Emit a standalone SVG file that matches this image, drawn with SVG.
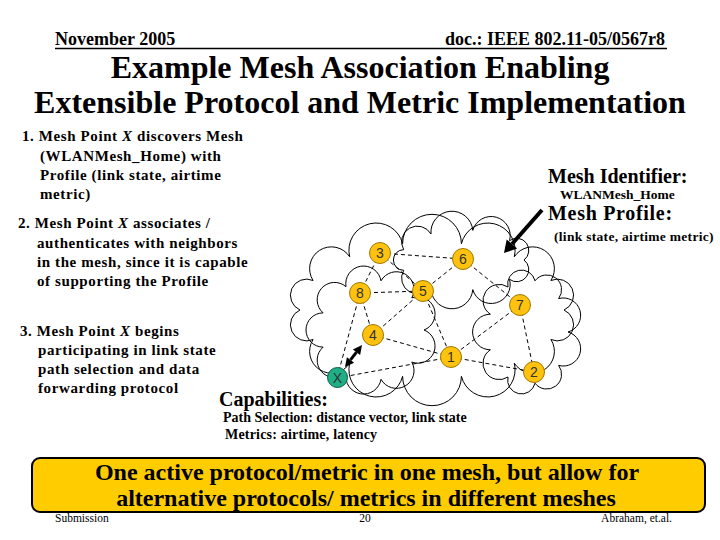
<svg xmlns="http://www.w3.org/2000/svg" width="720" height="540" viewBox="0 0 720 540">
<defs>
<style>
.t{font-family:"Liberation Serif","Times New Roman",serif;font-weight:bold;fill:#000}
.s{font-size:15px;letter-spacing:0.6px}
.cl{fill:none;stroke:#000;stroke-width:1}
.ed{stroke:#000;stroke-width:1;stroke-dasharray:4 3;fill:none}
.nd{fill:#FFC20E;stroke:#A07800;stroke-width:1}
.nx{fill:#1FAE85;stroke:#0E5E45;stroke-width:1}
.nl{font-family:"Liberation Sans",Arial,sans-serif;font-size:14px;fill:#333;text-anchor:middle}
.ft{font-family:"Liberation Serif","Times New Roman",serif;fill:#000}
</style>
</defs>
<rect width="720" height="540" fill="#fff"/>
<g id="header">
<text class="t" x="55" y="45" font-size="18">November 2005</text>
<text class="t" x="665" y="45" font-size="18" text-anchor="end">doc.: IEEE 802.11-05/0567r8</text>
<line x1="55" y1="48.5" x2="667" y2="48.5" stroke="#000" stroke-width="1.5"/>
</g>
<g id="title">
<text class="t" x="360" y="78" font-size="32" text-anchor="middle">Example Mesh Association Enabling</text>
<text class="t" x="360" y="113" font-size="32" text-anchor="middle">Extensible Protocol and Metric Implementation</text>
</g>
<g id="steps">
<text class="t s" x="22" y="141">1. Mesh Point <tspan font-style="italic">X</tspan> discovers Mesh</text>
<text class="t s" x="40" y="161">(WLANMesh_Home) with</text>
<text class="t s" x="40" y="180">Profile (link state, airtime</text>
<text class="t s" x="40" y="199">metric)</text>
<text class="t s" x="18" y="228">2. Mesh Point <tspan font-style="italic">X</tspan> associates /</text>
<text class="t s" x="37" y="248">authenticates with neighbors</text>
<text class="t s" x="37" y="267">in the mesh, since it is capable</text>
<text class="t s" x="37" y="286">of supporting the Profile</text>
<text class="t s" x="20" y="336">3. Mesh Point <tspan font-style="italic">X</tspan> begins</text>
<text class="t s" x="38" y="355">participating in link state</text>
<text class="t s" x="38" y="374">path selection and data</text>
<text class="t s" x="38" y="393">forwarding protocol</text>
</g>
<g id="cloud">
<path class="cl" d="M564,310 A1,1 0 0 1 550.9,339.5 A1,1 0 0 1 514.3,363.2 A1,1 0 0 1 461.4,376.3 A1,1 0 0 1 402.6,376.3 A1,1 0 0 1 349.7,363.2 A1,1 0 0 1 313.1,339.5 A1,1 0 0 1 300,310 A1,1 0 0 1 313.1,280.5 A1,1 0 0 1 349.7,256.8 A1,1 0 0 1 402.6,243.7 A1,1 0 0 1 461.4,243.7 A1,1 0 0 1 514.3,256.8 A1,1 0 0 1 550.9,280.5 A1,1 0 0 1 564,310 Z"/>
<path class="cl" d="M424,330 A1,1 0 0 1 411.8,362.1 A1,1 0 0 1 381,379.3 A1,1 0 0 1 346,373.3 A1,1 0 0 1 323.1,347.1 A1,1 0 0 1 323.1,312.9 A1,1 0 0 1 346,286.7 A1,1 0 0 1 381,280.8 A1,1 0 0 1 411.8,297.9 A1,1 0 0 1 424,330 Z"/>
<path class="cl" d="M568,332 A1,1 0 0 1 558.6,365.4 A1,1 0 0 1 535,383.2 A1,1 0 0 1 508,377 A1,1 0 0 1 490.4,349.8 A1,1 0 0 1 490.4,314.2 A1,1 0 0 1 508,287 A1,1 0 0 1 535,280.8 A1,1 0 0 1 558.6,298.6 A1,1 0 0 1 568,332 Z"/>
<path class="cl" d="M524,260 A1,1 0 0 1 509.5,279.3 A1,1 0 0 1 472.8,289.6 A1,1 0 0 1 431,286 A1,1 0 0 1 403.7,270.3 A1,1 0 0 1 403.7,249.7 A1,1 0 0 1 431,234 A1,1 0 0 1 472.8,230.4 A1,1 0 0 1 509.5,240.7 A1,1 0 0 1 524,260 Z"/>
</g>
<g id="connectors">
<line class="ed" x1="380" y1="253" x2="463" y2="259"/>
<line class="ed" x1="380" y1="253" x2="360" y2="293"/>
<line class="ed" x1="380" y1="253" x2="423" y2="291"/>
<line class="ed" x1="463" y1="259" x2="423" y2="291"/>
<line class="ed" x1="463" y1="259" x2="520" y2="305"/>
<line class="ed" x1="360" y1="293" x2="423" y2="291"/>
<line class="ed" x1="360" y1="293" x2="373" y2="335"/>
<line class="ed" x1="360" y1="293" x2="337" y2="378"/>
<line class="ed" x1="423" y1="291" x2="373" y2="335"/>
<line class="ed" x1="423" y1="291" x2="451" y2="357"/>
<line class="ed" x1="520" y1="305" x2="451" y2="357"/>
<line class="ed" x1="520" y1="305" x2="534" y2="372"/>
<line class="ed" x1="373" y1="335" x2="451" y2="357"/>
<line class="ed" x1="451" y1="357" x2="534" y2="372"/>
<line class="ed" x1="451" y1="357" x2="337" y2="378"/>
<g id="assoc-arrow">
<line x1="350.5" y1="359.9" x2="356.5" y2="352.1" stroke="#000" stroke-width="3"/>
<polygon points="362,345 360.1,354.9 352.9,349.4" fill="#000"/>
<polygon points="345,367 354.1,362.7 346.9,357.2" fill="#000"/>
</g>
<g id="profile-arrow">
<line x1="542" y1="210" x2="512" y2="244" stroke="#000" stroke-width="4"/>
<polygon points="504,253 517.1,248.6 506.7,239.4" fill="#000"/>
</g>
</g>
<g id="node3"><circle class="nd" cx="380" cy="253" r="10.5"/><text class="nl" x="380" y="258">3</text></g>
<g id="node6"><circle class="nd" cx="463" cy="259" r="10.5"/><text class="nl" x="463" y="264">6</text></g>
<g id="node8"><circle class="nd" cx="360" cy="293" r="10.5"/><text class="nl" x="360" y="298">8</text></g>
<g id="node5"><circle class="nd" cx="423" cy="291" r="10.5"/><text class="nl" x="423" y="296">5</text></g>
<g id="node7"><circle class="nd" cx="520" cy="305" r="10.5"/><text class="nl" x="520" y="310">7</text></g>
<g id="node4"><circle class="nd" cx="373" cy="335" r="10.5"/><text class="nl" x="373" y="340">4</text></g>
<g id="node1"><circle class="nd" cx="451" cy="357" r="10.5"/><text class="nl" x="451" y="362">1</text></g>
<g id="node2"><circle class="nd" cx="534" cy="372" r="10.5"/><text class="nl" x="534" y="377">2</text></g>
<g id="nodeX"><circle class="nx" cx="337.5" cy="377.5" r="10"/><text class="nl" x="337.5" y="382.5" fill="#111">X</text></g>
<g id="mesh-labels">
<text class="t" x="548" y="183" font-size="20">Mesh Identifier:</text>
<text class="t" x="560" y="199" font-size="13.5">WLANMesh_Home</text>
<text class="t" x="548" y="220" font-size="20" letter-spacing="0.7">Mesh Profile:</text>
<text class="t" x="554" y="241" font-size="13.5" letter-spacing="0.3">(link state, airtime metric)</text>
</g>
<g id="capabilities">
<text class="t" x="219" y="406" font-size="20">Capabilities:</text>
<text class="t" x="223" y="422" font-size="14">Path Selection: distance vector, link state</text>
<text class="t" x="225" y="439" font-size="14" letter-spacing="0.2">Metrics: airtime,  latency</text>
</g>
<g id="banner">
<rect x="32" y="458" width="673" height="54" rx="8" fill="#FFCC00" stroke="#000" stroke-width="2"/>
<text class="t" x="367" y="480" font-size="24" text-anchor="middle">One active protocol/metric in one mesh, but allow for</text>
<text class="t" x="366" y="505.5" font-size="24" text-anchor="middle">alternative protocols/ metrics in different meshes</text>
</g>
<g id="footer">
<text class="ft" x="55" y="522" font-size="11.5">Submission</text>
<text class="ft" x="365" y="522" font-size="11.5" text-anchor="middle">20</text>
<text class="ft" x="672" y="522" font-size="11.5" text-anchor="end">Abraham, et.al.</text>
</g>
</svg>
